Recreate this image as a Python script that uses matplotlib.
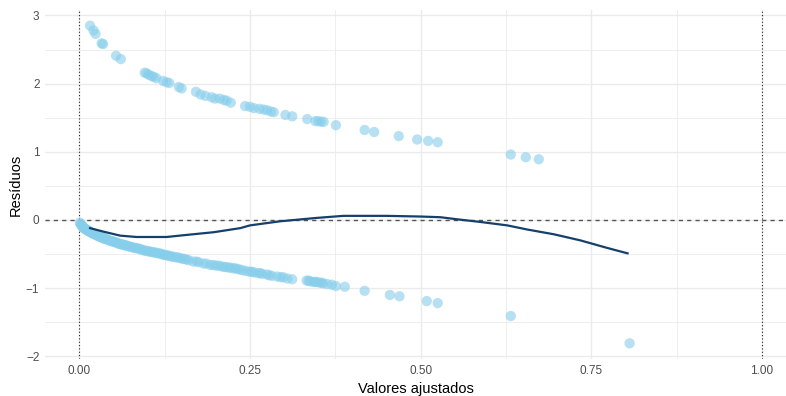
import numpy as np
import matplotlib
matplotlib.use("Agg")
import matplotlib.pyplot as plt
from matplotlib.ticker import MultipleLocator

plt.rcParams['font.family'] = ['Liberation Sans', 'DejaVu Sans']

# pontos com y = 1 (faixa superior)
x_sup = [0.016, 0.021, 0.024, 0.033, 0.035, 0.054, 0.061, 0.096, 0.099, 0.102,
         0.106, 0.109, 0.113, 0.123, 0.128, 0.132, 0.146, 0.150, 0.171, 0.178,
         0.185, 0.194, 0.199, 0.206, 0.212, 0.216, 0.222, 0.243, 0.250, 0.256,
         0.264, 0.270, 0.275, 0.281, 0.285, 0.302, 0.312, 0.334, 0.346, 0.350,
         0.354, 0.358, 0.376, 0.418, 0.432, 0.468, 0.495, 0.511, 0.525, 0.632,
         0.654, 0.673]
r_sup = [2.85, 2.78, 2.73, 2.59, 2.58, 2.41, 2.36, 2.16, 2.15, 2.13,
         2.11, 2.10, 2.08, 2.04, 2.02, 2.01, 1.95, 1.93, 1.88, 1.84,
         1.82, 1.80, 1.78, 1.78, 1.76, 1.75, 1.72, 1.67, 1.66, 1.64,
         1.63, 1.62, 1.61, 1.59, 1.58, 1.54, 1.52, 1.48, 1.45, 1.45,
         1.44, 1.44, 1.39, 1.32, 1.29, 1.23, 1.18, 1.16, 1.14, 0.96,
         0.92, 0.89]

# pontos com y = 0 (faixa inferior)
x_inf = [0.001, 0.002, 0.003, 0.004, 0.005, 0.006, 0.007, 0.008, 0.009, 0.010,
         0.011, 0.012, 0.013, 0.014, 0.015, 0.017, 0.018, 0.020, 0.021, 0.023,
         0.025, 0.026, 0.028, 0.029, 0.031, 0.032, 0.034, 0.035, 0.037, 0.038,
         0.040, 0.042, 0.044, 0.046, 0.048, 0.050, 0.052, 0.054, 0.056, 0.058,
         0.060, 0.062, 0.064, 0.066, 0.068, 0.070, 0.073, 0.075, 0.078, 0.080,
         0.083, 0.085, 0.088, 0.090, 0.093, 0.095, 0.098, 0.100, 0.103, 0.105,
         0.108, 0.110, 0.113, 0.115, 0.118, 0.120, 0.123, 0.125, 0.128, 0.130,
         0.133, 0.136, 0.139, 0.142, 0.145, 0.148, 0.151, 0.154, 0.157, 0.160,
         0.167, 0.172, 0.175, 0.182, 0.186, 0.192, 0.196, 0.200, 0.204, 0.208,
         0.212, 0.215, 0.219, 0.222, 0.226, 0.229, 0.232, 0.236, 0.240, 0.245,
         0.250, 0.253, 0.256, 0.262, 0.265, 0.268, 0.275, 0.278, 0.282, 0.290,
         0.295, 0.299, 0.305, 0.312, 0.333, 0.336, 0.338, 0.343, 0.346, 0.348,
         0.352, 0.355, 0.357, 0.363, 0.370, 0.376, 0.389, 0.418, 0.455, 0.469,
         0.509, 0.525, 0.632, 0.806]
r_inf = [-0.04, -0.06, -0.07, -0.08, -0.10, -0.11, -0.12, -0.12, -0.13, -0.14,
         -0.15, -0.15, -0.16, -0.16, -0.17, -0.18, -0.19, -0.20, -0.20, -0.21,
         -0.22, -0.23, -0.23, -0.24, -0.25, -0.25, -0.26, -0.27, -0.27, -0.28,
         -0.28, -0.29, -0.30, -0.31, -0.31, -0.32, -0.32, -0.33, -0.34, -0.35,
         -0.35, -0.36, -0.36, -0.37, -0.37, -0.38, -0.39, -0.39, -0.40, -0.41,
         -0.41, -0.42, -0.42, -0.43, -0.44, -0.45, -0.45, -0.46, -0.46, -0.47,
         -0.47, -0.48, -0.48, -0.49, -0.49, -0.50, -0.51, -0.51, -0.52, -0.52,
         -0.53, -0.54, -0.54, -0.55, -0.55, -0.56, -0.57, -0.57, -0.58, -0.59,
         -0.61, -0.61, -0.62, -0.64, -0.64, -0.66, -0.66, -0.67, -0.67, -0.68,
         -0.69, -0.69, -0.70, -0.70, -0.71, -0.71, -0.72, -0.73, -0.74, -0.75,
         -0.76, -0.76, -0.77, -0.78, -0.78, -0.79, -0.80, -0.81, -0.82, -0.83,
         -0.84, -0.84, -0.86, -0.87, -0.89, -0.89, -0.90, -0.91, -0.91, -0.91,
         -0.92, -0.92, -0.93, -0.94, -0.95, -0.97, -0.98, -1.04, -1.10, -1.12,
         -1.19, -1.22, -1.41, -1.81]

# curva suavizada (loess)
x_suave = [0.016, 0.035, 0.060, 0.084, 0.128, 0.157, 0.197, 0.236, 0.250, 0.294,
           0.348, 0.387, 0.450, 0.500, 0.529, 0.553, 0.588, 0.627, 0.656, 0.695,
           0.734, 0.773, 0.803]
r_suave = [-0.12, -0.17, -0.23, -0.25, -0.25, -0.22, -0.18, -0.12, -0.08, -0.02,
           0.03, 0.06, 0.06, 0.05, 0.04, 0.01, -0.03, -0.08, -0.14, -0.21,
           -0.30, -0.41, -0.49]

fig = plt.figure(figsize=(7.86, 3.96), dpi=100)
ax = fig.add_axes([45 / 786, 1 - 359 / 396, 741 / 786, 349 / 396])

ax.set_xlim(-0.05, 1.035)
ax.set_ylim(-2.04, 3.08)

ax.xaxis.set_major_locator(MultipleLocator(0.25))
ax.xaxis.set_minor_locator(MultipleLocator(0.125))
ax.yaxis.set_major_locator(MultipleLocator(1))
ax.yaxis.set_minor_locator(MultipleLocator(0.5))
ax.grid(which='major', color='#EBEBEB', linewidth=1.0)
ax.grid(which='minor', color='#EBEBEB', linewidth=0.6)
ax.set_axisbelow(True)
for s in ax.spines.values():
    s.set_visible(False)
ax.tick_params(which='both', length=0)
ax.tick_params(labelsize=8.5, labelcolor='#4D4D4D', pad=4)
ax.set_xticks([0, 0.25, 0.5, 0.75, 1.0])
ax.set_xticklabels(['0.00', '0.25', '0.50', '0.75', '1.00'])

ax.axhline(0, color='#555555', linestyle=(0, (3, 3)), linewidth=1.0, zorder=1)
ax.axvline(0, color='#222222', linestyle=(0, (1, 2)), linewidth=0.8, zorder=1)
ax.axvline(1, color='#222222', linestyle=(0, (1, 2)), linewidth=0.8, zorder=1)

ax.scatter(x_sup, r_sup, s=55, color='#87CEEB', alpha=0.6, edgecolors='none', zorder=2)
ax.scatter(x_inf, r_inf, s=55, color='#87CEEB', alpha=0.6, edgecolors='none', zorder=2)
ax.plot(x_suave, r_suave, color='#15406B', linewidth=1.6, zorder=3)

ax.set_xlabel('Valores ajustados', fontsize=10.5, color='black', labelpad=4)
ax.set_ylabel('Resíduos', fontsize=10.5, color='black', labelpad=2)

fig.savefig('out.png', dpi=100)
